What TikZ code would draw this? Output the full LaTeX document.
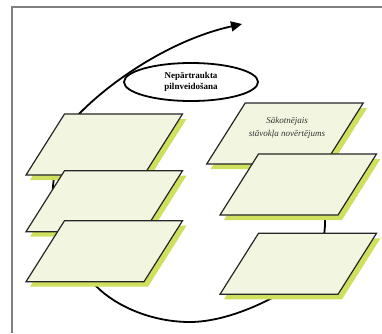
\documentclass[tikz,border=0pt]{standalone}
\usepackage{fontspec}
\setmainfont{Liberation Serif}
\usetikzlibrary{arrows.meta,shapes.geometric}

\definecolor{platefill}{RGB}{242,246,224}
\definecolor{plateshade}{RGB}{207,224,94}

\tikzset{
  plate/.style={draw=black!85, line width=1.2pt, fill=platefill},
  plateshadow/.style={fill=plateshade},
}

\begin{document}
\begin{tikzpicture}[x=1pt, y=-1pt]
    \useasboundingbox (0,0) rectangle (382,333);
    \draw[gray, line width=1.2pt] (382,7) -- (12,7) -- (12,333);

    % the loop goes first, the plates cover most of it
    \draw[line width=1.8pt, -{Triangle[length=11pt,width=10pt]}]
        (326,150) -- (325,225) .. controls (323,265) and (300,285) .. (270,299)
        .. controls (245,312) and (215,322) .. (190,322)
        .. controls (150,322) and (115,305) .. (97,287)
        .. controls (70,260) and (50,220) .. (53,186)
        .. controls (56,155) and (66,128) .. (79,114)
        .. controls (110,82) and (170,40) .. (242,24);

    \node[draw, ellipse, line width=1.8pt, minimum width=134pt, minimum height=38pt,
          align=center, font=\bfseries\fontsize{9}{11}\selectfont] (goal) at (191,82)
          {Nepārtraukta\\pilnveidošana};

    % plates, given by their lower left corner
    \foreach \x/\y in {26/175, 26/231.7, 26/281.7, 206.7/164, 220/215, 220/294.3} {
        \fill[plateshadow] (\x+4,\y+5) -- ++(118,0) -- ++(38.5,-61) -- ++(-118,0) -- cycle;
        \draw[plate] (\x,\y) -- ++(118,0) -- ++(38.5,-61) -- ++(-118,0) -- cycle;
    }

    \node[align=center, text=black!80, font=\itshape\fontsize{9}{13}\selectfont] (start) at (287,128)
        {Sākotnējais\\stāvokļa novērtējums};
\end{tikzpicture}
\end{document}
